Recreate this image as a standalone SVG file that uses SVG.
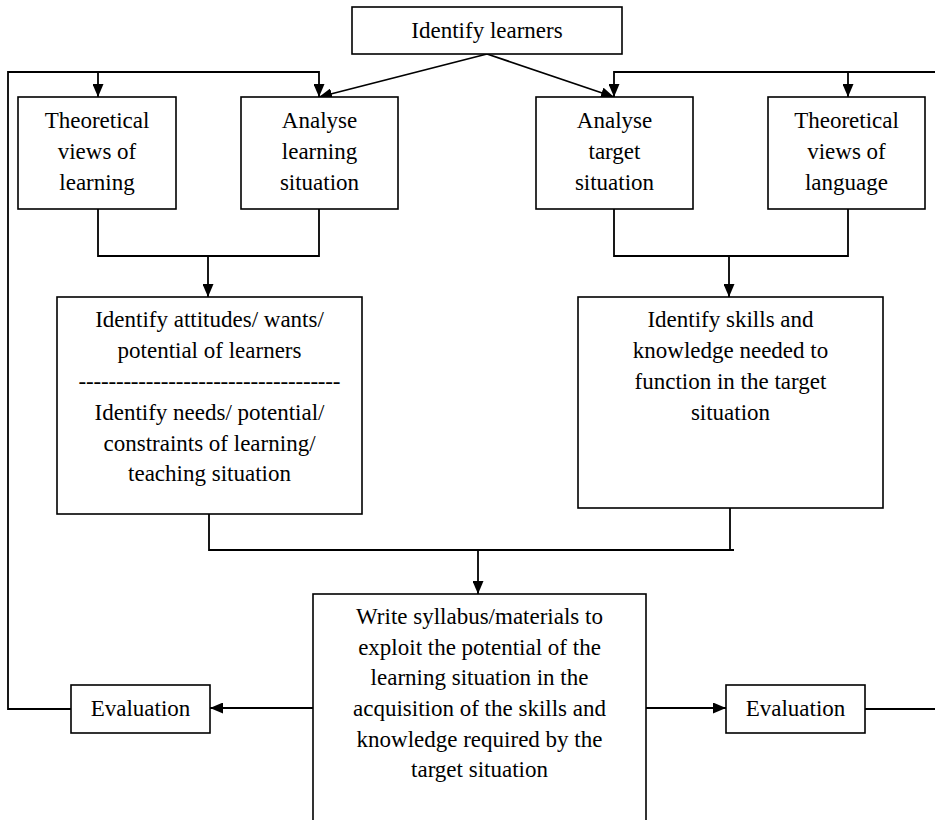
<svg xmlns="http://www.w3.org/2000/svg" width="935" height="820" viewBox="0 0 935 820">
<style>
  .box{fill:#fff;stroke:#000;stroke-width:1.6}
  .t{font-family:'Liberation Serif','Times New Roman',Times,serif;font-size:23px;fill:#000;text-anchor:middle}
  .c{fill:none;stroke:#000;stroke-width:1.8}
</style>
<defs>
  <marker id="ah" viewBox="0 0 13 11" refX="13" refY="5.5" markerWidth="13" markerHeight="11" markerUnits="userSpaceOnUse" orient="auto">
    <path d="M0,0 L13,5.5 L0,11 z" fill="#000"/>
  </marker>
</defs>
<rect width="935" height="820" fill="#fff"/>
<g id="connectors">
  <path class="c" d="M487,54 L319,97" marker-end="url(#ah)"/>
  <path class="c" d="M487,54 L614,97" marker-end="url(#ah)"/>
  <path class="c" d="M71,709 H8 V72 H319 V97" marker-end="url(#ah)"/>
  <path class="c" d="M98,72 V97" marker-end="url(#ah)"/>
  <path class="c" d="M865,709 H945 M945,72 H614 V97" marker-end="url(#ah)"/>
  <path class="c" d="M848,72 V97" marker-end="url(#ah)"/>
  <path class="c" d="M98,209 V256 H319 V209"/>
  <path class="c" d="M208,256 V297" marker-end="url(#ah)"/>
  <path class="c" d="M614,209 V256 H848 V209"/>
  <path class="c" d="M729,256 V297" marker-end="url(#ah)"/>
  <path class="c" d="M209,514 V550 H734"/>
  <path class="c" d="M730,508 V550"/>
  <path class="c" d="M478,550 V594" marker-end="url(#ah)"/>
  <path class="c" d="M313,708 H210" marker-end="url(#ah)"/>
  <path class="c" d="M646,708 H726" marker-end="url(#ah)"/>
</g>
<g font-family="'Liberation Serif', serif">
<g id="identify-learners">
  <rect class="box" x="352" y="7" width="270" height="47"/>
  <text class="t" x="487" y="38">Identify learners</text>
</g>
<g id="views-learning">
  <rect class="box" x="18" y="97" width="158" height="112"/>
  <text class="t" x="97" y="128">Theoretical</text>
  <text class="t" x="97" y="159">views of</text>
  <text class="t" x="97" y="190">learning</text>
</g>
<g id="analyse-learning">
  <rect class="box" x="241" y="97" width="157" height="112"/>
  <text class="t" x="319.5" y="128">Analyse</text>
  <text class="t" x="319.5" y="159">learning</text>
  <text class="t" x="319.5" y="190">situation</text>
</g>
<g id="analyse-target">
  <rect class="box" x="536" y="97" width="157" height="112"/>
  <text class="t" x="614.5" y="128">Analyse</text>
  <text class="t" x="614.5" y="159">target</text>
  <text class="t" x="614.5" y="190">situation</text>
</g>
<g id="views-language">
  <rect class="box" x="768" y="97" width="157" height="112"/>
  <text class="t" x="846.5" y="128">Theoretical</text>
  <text class="t" x="846.5" y="159">views of</text>
  <text class="t" x="846.5" y="190">language</text>
</g>
<g id="identify-attitudes">
  <rect class="box" x="57" y="297" width="305" height="217"/>
  <text class="t" x="209.5" y="327">Identify attitudes/ wants/</text>
  <text class="t" x="209.5" y="358">potential of learners</text>
  <text class="t" x="209.5" y="389" textLength="262" lengthAdjust="spacing">-----------------------------------</text>
  <text class="t" x="209.5" y="420">Identify needs/ potential/</text>
  <text class="t" x="209.5" y="451">constraints of learning/</text>
  <text class="t" x="209.5" y="481">teaching situation</text>
</g>
<g id="identify-skills">
  <rect class="box" x="578" y="297" width="305" height="211"/>
  <text class="t" x="730.5" y="327">Identify skills and</text>
  <text class="t" x="730.5" y="358">knowledge needed to</text>
  <text class="t" x="730.5" y="389">function in the target</text>
  <text class="t" x="730.5" y="420">situation</text>
</g>
<g id="write-syllabus">
  <rect class="box" x="313" y="594" width="333" height="240"/>
  <text class="t" x="479.5" y="624">Write syllabus/materials to</text>
  <text class="t" x="479.5" y="655">exploit the potential of the</text>
  <text class="t" x="479.5" y="685">learning situation in the</text>
  <text class="t" x="479.5" y="716">acquisition of the skills and</text>
  <text class="t" x="479.5" y="747">knowledge required by the</text>
  <text class="t" x="479.5" y="777">target situation</text>
</g>
<g id="evaluation-left">
  <rect class="box" x="71" y="685" width="139" height="48"/>
  <text class="t" x="140.5" y="716">Evaluation</text>
</g>
<g id="evaluation-right">
  <rect class="box" x="726" y="685" width="139" height="48"/>
  <text class="t" x="795.5" y="716">Evaluation</text>
</g>
</g>
</svg>
